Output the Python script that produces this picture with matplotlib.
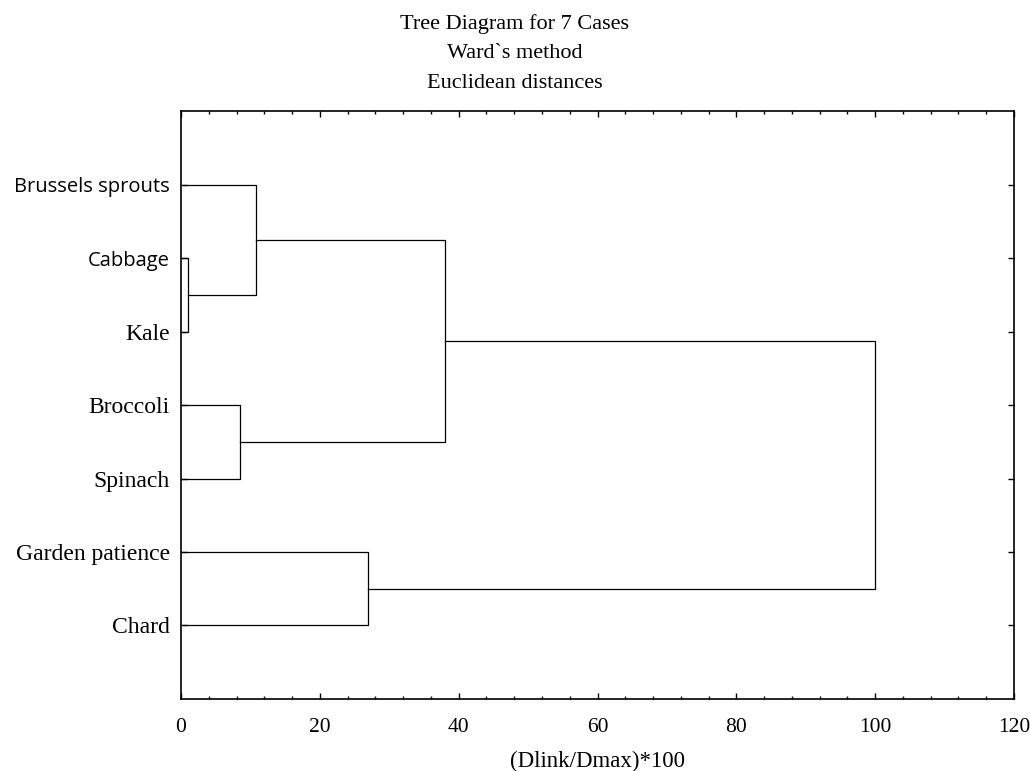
import matplotlib.pyplot as plt
from matplotlib.ticker import MultipleLocator

# leaves from top to bottom
leaves = ["Brussels sprouts", "Cabbage", "Kale", "Broccoli", "Spinach", "Garden patience", "Chard"]
# merges: (left cluster, right cluster, linkage distance); new clusters get ids 7, 8, ...
merges = [
    (1, 2, 1.0),
    (3, 4, 8.5),
    (0, 7, 10.8),
    (5, 6, 27.0),
    (9, 8, 38.0),
    (10, 11, 100.0),
]

plt.rcParams["font.family"] = ["Liberation Serif", "DejaVu Serif"]

fig = plt.figure(figsize=(10.3, 7.71), dpi=100)
ax = fig.add_axes([0.1757, 0.0934, 0.8088, 0.7626])

# y position and height of every cluster
pos = {i: i + 1 for i in range(len(leaves))}
hgt = {i: 0.0 for i in range(len(leaves))}
for k, (a, b, d) in enumerate(merges):
    ya, yb = pos[a], pos[b]
    ax.plot([hgt[a], d, d, hgt[b]], [ya, ya, yb, yb], color="black", lw=0.9)
    new = len(leaves) + k
    pos[new] = (ya + yb) / 2
    hgt[new] = d

ax.set_xlim(0, 120)
ax.set_ylim(8, 0)
ax.xaxis.set_major_locator(MultipleLocator(20))
ax.xaxis.set_minor_locator(MultipleLocator(4))
ax.set_yticks(range(1, len(leaves) + 1))
ax.set_yticklabels(leaves)
ax.tick_params(axis="both", which="both", direction="in", top=True, right=True, width=1)
ax.tick_params(axis="both", which="major", length=4)
ax.tick_params(axis="x", which="minor", length=2.5)
ax.tick_params(axis="x", labelsize=15.5, pad=13.5)
ax.tick_params(axis="y", labelsize=17, pad=8)

for lab in ax.get_yticklabels()[:2]:
    lab.set_family(["Open Sans", "DejaVu Sans"])
    lab.set_fontsize(14.5)

for s in ax.spines.values():
    s.set_linewidth(1.2)

ax.set_xlabel("(Dlink/Dmax)*100", fontsize=16.5, labelpad=10)
fig.text(0.5, 0.982, "Tree Diagram for 7 Cases\nWard`s method\nEuclidean distances",
         ha="center", va="top", fontsize=16, linespacing=1.75)

fig.savefig("out.png", dpi=100)
